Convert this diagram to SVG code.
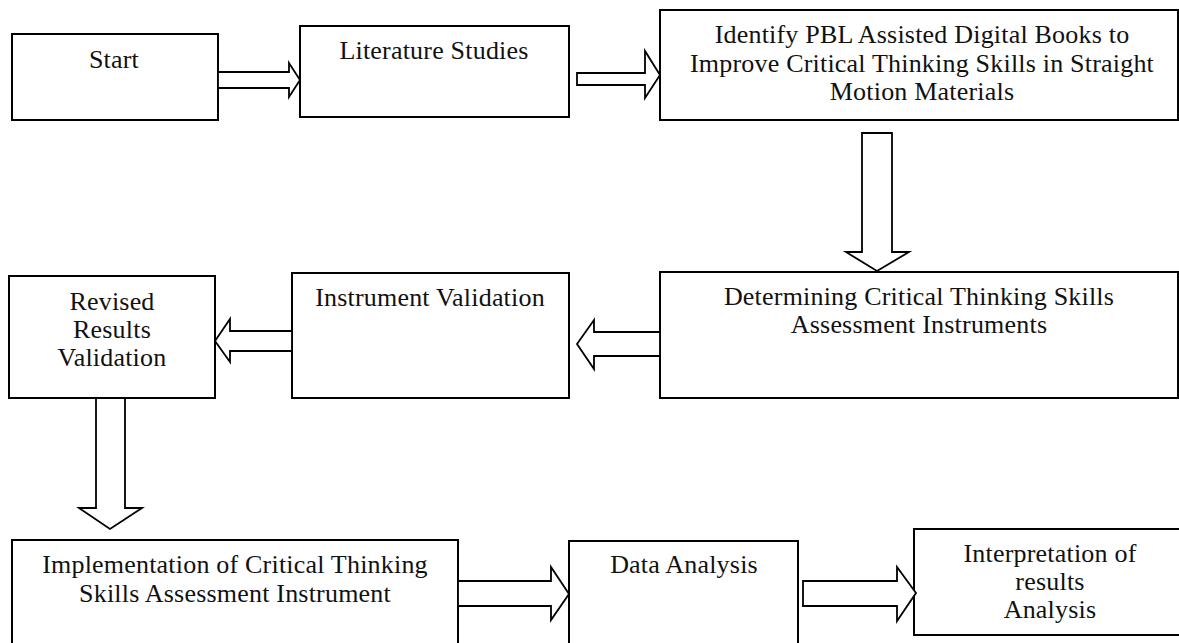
<svg xmlns="http://www.w3.org/2000/svg" width="1179" height="643" viewBox="0 0 1179 643">
<style>
.box{fill:#fff;stroke:#000;stroke-width:2}
.arr{fill:#fff;stroke:#000;stroke-width:1.8;stroke-linejoin:miter}
text{font-family:"Palatino Linotype","Book Antiqua",Palatino,"Liberation Serif",serif;font-size:26px;letter-spacing:0.2px;fill:#111;text-anchor:middle}
</style>
<rect width="1179" height="643" fill="#fff"/>
<g id="start"><rect class="box" x="12" y="34" width="206" height="86"/><text x="114" y="68">Start</text></g>
<g id="literature"><rect class="box" x="300" y="26" width="269" height="91"/><text x="434" y="59">Literature Studies</text></g>
<g id="identify"><rect class="box" x="660" y="10" width="518" height="110"/>
<text x="922" y="43">Identify PBL Assisted Digital Books to</text>
<text x="922" y="72">Improve Critical Thinking Skills in Straight</text>
<text x="922" y="100">Motion Materials</text></g>
<g id="determining"><rect class="box" x="660" y="272" width="518" height="126"/>
<text x="919" y="305">Determining Critical Thinking Skills</text>
<text x="919" y="333">Assessment Instruments</text></g>
<g id="instrument"><rect class="box" x="292" y="273" width="277" height="125"/><text x="430" y="306">Instrument Validation</text></g>
<g id="revised"><rect class="box" x="9" y="276" width="206" height="122"/>
<text x="112" y="310">Revised</text><text x="112" y="338">Results</text><text x="112" y="366">Validation</text></g>
<g id="implementation"><rect class="box" x="12" y="540" width="446" height="110"/>
<text x="235" y="573">Implementation of Critical Thinking</text>
<text x="235" y="602">Skills Assessment Instrument</text></g>
<g id="data"><rect class="box" x="569" y="541" width="229" height="110"/><text x="684" y="573">Data Analysis</text></g>
<g id="interpretation"><rect class="box" x="914" y="529" width="268" height="106"/>
<text x="1050" y="562">Interpretation of</text><text x="1050" y="590">results</text><text x="1050" y="618">Analysis</text></g>
<g id="connectors">
<polygon class="arr" points="218,72 289,72 289,63 300,80 289,97 289,88 218,88"/>
<polygon class="arr" points="577,73 645,73 645,51 660,75 645,98 645,85 577,85"/>
<polygon class="arr" points="862,133 892,133 892,252 909,252 877,271 846,252 862,252"/>
<polygon class="arr" points="660,332 594,332 594,320 577,344 594,369 594,356 660,356"/>
<polygon class="arr" points="292,331 230,331 230,319 215,341 230,362 230,351 292,351"/>
<polygon class="arr" points="96,398 125,398 125,508 142,508 110,529 79,508 96,508"/>
<polygon class="arr" points="458,581 551,581 551,567 569,594 551,620 551,606 458,606"/>
<polygon class="arr" points="803,581 897,581 897,567 916,593 897,621 897,606 803,606"/>
</g>
</svg>
